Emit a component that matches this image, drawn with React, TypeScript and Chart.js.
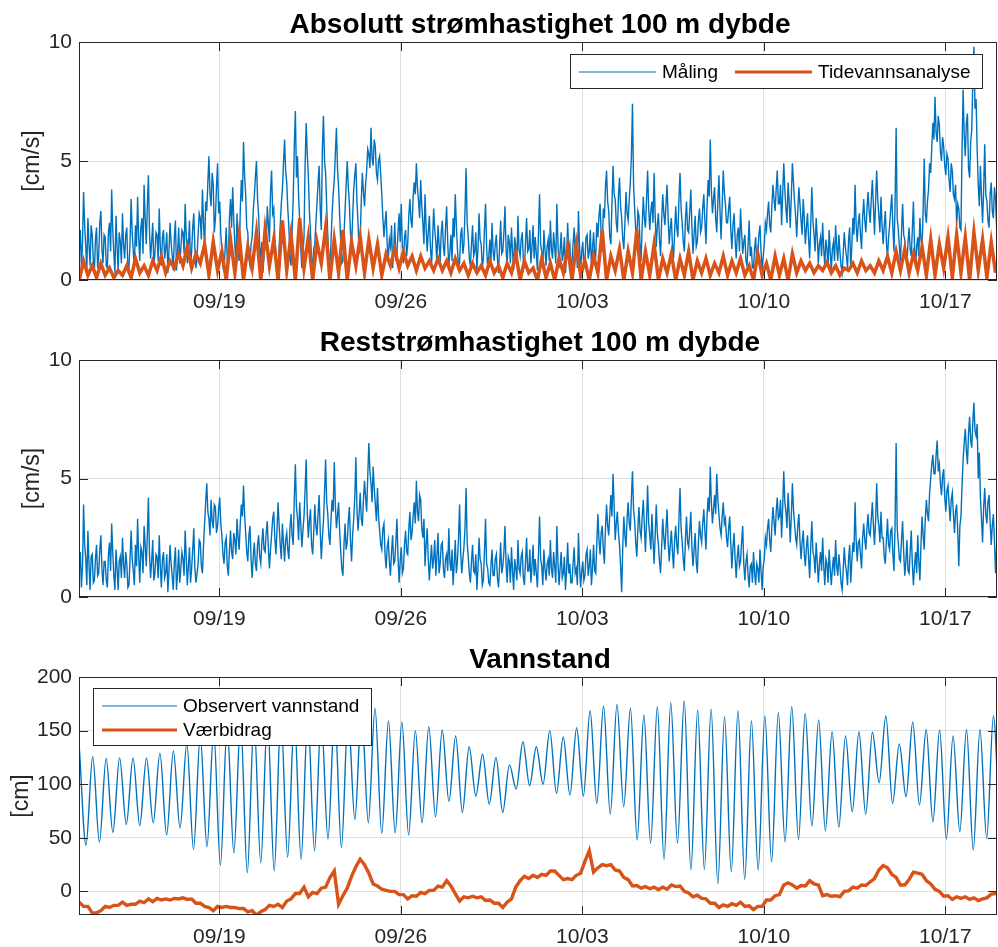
import { useEffect, useRef } from 'react';
import { Chart, registerables } from 'chart.js';

Chart.register(...registerables);

const FONT = '"Liberation Sans", Arial, Helvetica, sans-serif';
const BLUE = '#0072BD';
const ORANGE = '#D95319';
const AXIS = '#262626';
const GRID = 'rgba(38,38,38,0.15)';
const TICK_LEN = 9;

// Time axis in days relative to 19 Sep 00:00
const X_MIN = -5.41;
const X_MAX = 29.99;
const dayTicks = [0, 7, 14, 21, 28];
const dayTickLabels = ['09/19', '09/26', '10/03', '10/10', '10/17'];

const speedTicks = [0, 5, 10];
const levelTicks = [0, 50, 100, 150, 200];

// Current speed at 100 m (cm/s), hourly samples starting at day -5.4
const speedStart = -5.4;
const speedStep = 1 / 24;

const maaling = [
  1.2, 2.1, 0.5, 1.6, 3.7, 2.3, 1.4, 0.4, 2.6, 1.5, 0.6, 2.3, 1.9, 0.8, 0.4, 1.7, 2.2, 0.5, 1.0, 2.4, 2.9, 1.3, 0.7, 1.9,
  1.8, 0.6, 0.5, 2.0, 2.4, 1.2, 3.8, 2.1, 1.1, 0.3, 2.7, 1.4, 0.4, 2.0, 1.6, 0.7, 2.8, 1.5, 0.9, 1.9, 2.2, 0.4, 0.5, 1.6,
  3.4, 2.0, 1.2, 0.5, 2.3, 1.4, 3.5, 1.8, 0.8, 2.2, 2.6, 1.1, 4.0, 2.6, 1.5, 3.1, 4.4, 2.0, 0.9, 1.6, 2.4, 0.6, 1.1, 2.0,
  1.9, 0.8, 3.0, 1.4, 0.6, 1.8, 2.1, 0.9, 1.3, 2.0, 0.3, 1.2, 2.4, 1.6, 1.0, 0.4, 1.8, 2.5, 0.4, 1.1, 2.2, 0.7, 1.3, 2.1,
  2.0, 1.1, 3.2, 1.9, 0.7, 1.4, 2.5, 0.6, 1.2, 2.2, 2.8, 1.3, 0.5, 1.0, 1.9, 2.8, 2.6, 1.7, 3.8, 2.4, 1.3, 3.3, 2.9, 4.1,
  5.2, 3.6, 3.1, 4.5, 4.0, 2.0, 2.6, 3.9, 4.9, 2.8, 3.3, 1.9, 1.2, 0.5, 0.4, 1.3, 2.2, 0.8, 1.0, 2.6, 3.4, 2.2, 3.9, 2.5,
  1.5, 0.6, 2.8, 1.3, 0.8, 2.9, 4.2, 3.3, 5.8, 4.4, 3.6, 2.2, 2.0, 0.9, 0.6, 1.5, 1.8, 2.9, 3.5, 4.3, 5.0, 3.4, 2.7, 1.4,
  0.9, 1.6, 0.3, 1.0, 2.0, 1.2, 3.1, 2.4, 1.6, 3.7, 4.6, 2.8, 3.0, 1.7, 1.1, 0.5, 0.4, 1.4, 2.3, 3.2, 3.8, 4.9, 5.9, 4.6,
  4.1, 3.0, 2.2, 1.0, 0.6, 2.1, 3.4, 5.6, 7.1, 4.3, 5.2, 3.5, 2.5, 1.3, 0.5, 1.1, 1.8, 4.8, 6.6, 5.3, 4.4, 2.9, 2.0, 0.8,
  0.7, 1.3, 1.5, 2.4, 3.2, 4.1, 4.8, 3.0, 2.1, 5.5, 6.9, 5.0, 4.5, 3.1, 1.9, 0.9, 0.4, 1.6, 2.8, 3.6, 4.2, 5.3, 6.4, 4.7,
  3.9, 2.7, 1.6, 0.7, 0.8, 1.9, 2.9, 4.0, 5.0, 3.9, 3.2, 2.0, 1.4, 2.6, 3.8, 4.4, 4.9, 3.3, 2.4, 1.1, 1.7, 3.3, 4.5, 3.7,
  3.1, 4.0, 4.6, 5.5, 5.3, 4.7, 6.4, 5.1, 4.8, 5.9, 5.6, 4.5, 4.2, 5.0, 5.2, 4.4, 3.6, 2.6, 1.8, 2.4, 2.9, 1.5, 0.9, 1.7,
  1.4, 2.3, 0.5, 1.2, 2.4, 0.8, 1.1, 2.0, 2.8, 1.6, 3.2, 1.4, 0.7, 1.8, 2.1, 1.0, 1.5, 2.7, 3.4, 2.5, 2.2, 3.5, 4.1, 3.6,
  4.9, 3.9, 3.3, 2.6, 4.2, 3.1, 2.4, 1.5, 3.6, 2.2, 1.2, 2.0, 2.7, 1.4, 0.6, 1.7, 3.0, 2.1, 1.6, 0.7, 2.3, 1.5, 0.8, 2.0,
  2.5, 1.4, 1.0, 2.2, 3.1, 1.6, 0.5, 1.2, 1.9, 0.8, 2.6, 1.8, 3.6, 2.3, 1.3, 0.6, 0.7, 1.9, 2.2, 1.1, 1.5, 2.9, 4.7, 2.4,
  1.8, 0.9, 0.6, 1.5, 2.3, 1.0, 1.2, 2.0, 0.4, 1.3, 2.8, 1.7, 1.5, 0.5, 0.9, 2.1, 3.2, 1.4, 0.5, 1.0, 1.7, 0.7, 2.4, 1.2,
  0.8, 1.5, 1.9, 0.9, 0.3, 1.4, 2.5, 1.1, 1.2, 2.0, 3.1, 1.3, 0.6, 1.9, 1.6, 0.7, 2.2, 1.2, 0.4, 1.8, 1.4, 0.6, 2.7, 1.3,
  1.0, 1.7, 2.0, 0.8, 0.5, 1.6, 2.6, 1.2, 1.3, 2.1, 0.7, 1.4, 2.3, 0.9, 1.8, 1.1, 0.4, 2.0, 3.6, 1.5, 1.2, 0.5, 2.1, 1.3,
  0.6, 1.4, 1.7, 0.8, 2.5, 1.3, 0.9, 2.0, 1.4, 0.7, 3.2, 1.6, 0.5, 1.2, 2.0, 0.8, 1.1, 1.8, 0.3, 1.0, 2.4, 1.2, 1.5, 0.6,
  0.7, 1.5, 2.2, 1.0, 1.3, 0.5, 2.9, 1.4, 0.4, 1.2, 1.6, 0.7, 0.8, 1.8, 1.9, 0.9, 1.2, 2.1, 0.5, 1.3, 2.0, 1.1, 1.0, 2.4,
  1.8, 2.7, 3.2, 1.9, 1.2, 3.0, 2.6, 3.9, 4.6, 3.3, 2.9, 1.8, 1.5, 3.2, 4.8, 3.6, 3.4, 2.4, 2.0, 3.5, 4.3, 3.1, 2.6, 1.7,
  1.3, 2.4, 3.7, 2.8, 2.5, 3.4, 4.1, 5.2, 7.4, 4.0, 3.0, 2.1, 1.6, 2.9, 2.7, 1.5, 0.8, 2.3, 3.5, 2.6, 2.2, 3.4, 4.6, 3.0,
  2.1, 2.9, 3.3, 2.4, 4.5, 2.7, 1.4, 2.3, 2.8, 1.7, 1.0, 2.5, 3.6, 2.8, 2.3, 3.2, 4.0, 2.6, 1.5, 2.2, 2.6, 1.4, 0.9, 2.0,
  3.1, 2.2, 1.8, 3.4, 4.5, 3.0, 2.4, 1.6, 1.2, 2.5, 3.3, 2.1, 2.0, 2.9, 3.8, 2.2, 1.1, 1.9, 2.7, 1.4, 1.6, 2.5, 3.0, 2.0,
  2.2, 3.0, 3.6, 2.5, 1.5, 3.1, 4.2, 3.5, 5.9, 3.8, 2.8, 3.4, 3.9, 2.6, 2.0, 3.3, 4.4, 2.9, 1.7, 3.1, 4.6, 3.7, 3.2, 2.4,
  2.4, 3.0, 3.5, 2.1, 1.3, 2.3, 2.8, 1.7, 0.9, 1.9, 2.2, 1.2, 3.0, 2.0, 1.1, 1.6, 1.9, 0.8, 0.6, 1.5, 2.5, 1.0, 1.4, 0.5,
  0.5, 1.3, 1.8, 0.7, 1.0, 1.9, 2.3, 1.2, 0.4, 1.0, 1.5, 2.4, 2.1, 2.8, 3.3, 2.3, 2.0, 3.1, 4.0, 3.4, 2.9, 3.8, 4.6, 3.2,
  3.2, 4.0, 2.3, 3.6, 4.9, 3.8, 3.0, 2.4, 4.1, 3.3, 2.2, 3.5, 4.9, 4.1, 3.3, 2.7, 1.8, 2.9, 3.9, 3.2, 2.5, 1.9, 3.4, 2.6,
  1.5, 2.2, 2.8, 1.7, 0.9, 2.4, 3.9, 2.5, 1.9, 1.2, 2.6, 1.8, 0.7, 1.5, 1.8, 1.0, 2.4, 1.3, 0.6, 1.7, 1.3, 0.5, 2.1, 1.2,
  0.4, 1.3, 1.6, 0.8, 2.3, 1.4, 0.8, 1.9, 1.2, 0.6, 0.3, 1.1, 2.0, 1.4, 1.0, 0.5, 1.7, 2.2, 0.5, 1.4, 2.6, 1.9, 4.0, 2.3,
  1.6, 2.4, 2.8, 1.9, 1.3, 2.6, 3.4, 2.5, 2.0, 3.0, 3.7, 2.9, 2.4, 3.4, 4.2, 3.1, 1.9, 3.3, 4.6, 3.4, 2.7, 2.0, 3.5, 2.3,
  1.5, 2.3, 2.9, 1.6, 0.9, 1.8, 2.3, 3.0, 3.6, 2.2, 1.2, 3.1, 6.4, 2.6, 2.1, 1.4, 0.8, 2.0, 3.2, 1.9, 1.7, 1.1, 0.6, 1.6,
  2.2, 1.3, 1.0, 2.1, 3.3, 1.5, 0.5, 1.4, 1.8, 1.0, 2.6, 1.7, 1.3, 2.9, 5.1, 2.8, 2.4, 3.3, 3.8, 4.9, 4.5, 5.6, 6.6, 5.9,
  7.7, 6.2, 5.8, 6.9, 6.5, 5.4, 5.0, 6.0, 5.6, 4.8, 4.4, 5.3, 5.1, 4.2, 3.7, 4.9, 4.6, 3.6, 3.4, 4.0, 2.3, 3.2, 3.0, 2.2,
  2.1, 5.4, 8.0, 6.1, 5.2, 6.6, 7.0, 4.7, 4.3, 5.8, 6.3, 8.4, 9.8, 7.2, 7.6, 5.5, 4.0, 3.1, 4.8, 3.5, 2.4, 3.8, 5.7, 3.6,
  3.3, 2.5, 2.2, 3.6, 4.1, 2.9, 2.6, 3.9, 3.4, 2.2, 2.8, 3.5,
];

// Residual current at 100 m (cm/s), hourly samples starting at day -5.4
const reststrom = [
  1.1, 1.9, 0.4, 1.3, 3.9, 2.2, 1.6, 0.5, 2.8, 1.4, 0.3, 1.7, 1.8, 0.6, 0.7, 1.6, 2.2, 0.9, 1.0, 2.0, 2.6, 1.2, 0.5, 1.5,
  1.5, 0.7, 0.4, 1.8, 2.3, 1.1, 3.1, 1.9, 0.9, 0.3, 2.0, 1.2, 0.3, 1.5, 1.7, 0.8, 2.5, 1.4, 0.8, 1.9, 1.4, 0.4, 0.5, 1.6,
  2.8, 1.6, 1.1, 0.5, 2.2, 1.3, 3.3, 1.7, 0.6, 2.1, 1.9, 1.0, 3.0, 2.2, 1.3, 2.6, 4.2, 1.8, 0.8, 1.5, 2.4, 0.7, 1.0, 1.8,
  1.7, 0.8, 2.6, 1.3, 0.4, 1.6, 1.9, 0.8, 1.0, 1.8, 0.2, 1.1, 2.2, 1.4, 0.9, 0.3, 1.5, 2.1, 0.3, 1.0, 2.0, 0.6, 1.2, 1.9,
  1.6, 0.9, 2.8, 1.7, 0.5, 1.3, 2.1, 0.6, 1.2, 2.0, 2.9, 1.2, 0.6, 1.0, 1.4, 2.4, 2.3, 1.3, 1.0, 2.2, 3.1, 4.0, 4.8, 3.6,
  3.3, 2.6, 4.1, 3.2, 2.9, 3.9, 3.8, 2.7, 3.0, 3.7, 4.2, 3.1, 2.6, 1.8, 1.4, 2.3, 2.5, 1.3, 0.9, 2.0, 2.8, 1.9, 1.6, 2.7,
  2.4, 1.8, 3.3, 2.5, 2.0, 3.1, 3.9, 3.4, 4.7, 3.5, 2.7, 1.9, 1.5, 2.6, 3.0, 1.6, 0.8, 1.7, 2.3, 1.4, 1.1, 2.2, 2.6, 1.7,
  1.4, 2.3, 2.9, 2.0, 1.9, 2.7, 3.2, 2.1, 1.2, 2.0, 2.6, 3.3, 3.6, 2.5, 1.8, 2.8, 4.0, 3.0, 2.2, 1.6, 3.1, 2.3, 1.5, 2.4,
  2.7, 2.0, 1.6, 2.9, 3.5, 2.6, 2.2, 4.1, 5.6, 3.8, 3.3, 2.4, 4.0, 3.1, 2.1, 2.8, 3.4, 4.5, 5.8, 3.6, 2.5, 3.2, 3.7, 2.2,
  1.8, 2.7, 3.9, 3.0, 2.6, 3.5, 4.3, 2.8, 1.6, 2.5, 3.2, 4.4, 5.8, 4.0, 3.5, 2.6, 2.2, 3.3, 4.1, 3.6, 5.7, 3.9, 2.9, 3.4,
  4.0, 2.8, 1.9, 1.2, 0.9, 2.2, 3.1, 2.0, 2.3, 3.2, 3.8, 2.4, 1.5, 2.6, 3.3, 4.2, 5.9, 3.7, 2.8, 3.5, 4.4, 3.3, 3.0, 4.1,
  4.9, 4.2, 3.6, 5.1, 6.5, 5.3, 4.8, 4.0, 5.5, 4.6, 3.9, 3.2, 4.6, 3.4, 2.8, 2.2, 2.0, 2.9, 3.1, 1.8, 1.2, 2.1, 2.4, 1.5,
  0.9, 1.9, 2.6, 1.4, 1.5, 2.3, 3.3, 1.7, 0.6, 1.5, 2.1, 1.0, 1.2, 2.2, 2.8, 1.9, 1.8, 2.9, 3.6, 2.4, 2.7, 3.4, 4.0, 3.1,
  4.9, 3.6, 3.2, 4.3, 4.1, 2.9, 2.5, 3.3, 1.3, 2.2, 2.9, 1.6, 0.7, 1.5, 2.2, 1.2, 1.6, 2.4, 0.9, 1.7, 2.7, 1.0, 1.4, 2.2,
  2.3, 1.2, 0.8, 1.6, 1.8, 1.1, 2.9, 1.5, 1.1, 2.0, 0.5, 1.4, 2.4, 1.0, 1.5, 2.5, 3.9, 1.9, 1.0, 1.6, 2.1, 2.9, 4.6, 2.3,
  1.7, 1.0, 0.6, 1.5, 2.2, 1.1, 1.0, 1.8, 0.3, 1.2, 2.5, 1.6, 1.4, 0.5, 0.7, 1.9, 3.3, 1.4, 1.2, 0.6, 0.5, 1.3, 2.0, 0.9,
  0.9, 1.6, 1.8, 0.8, 0.4, 1.3, 2.3, 1.0, 1.3, 1.9, 3.0, 1.4, 0.6, 1.7, 1.5, 0.6, 2.1, 1.1, 0.3, 1.6, 1.2, 0.7, 2.4, 1.2,
  1.0, 1.7, 1.9, 0.8, 0.5, 1.5, 2.5, 1.1, 1.1, 2.0, 0.6, 1.3, 2.2, 0.9, 1.6, 1.0, 0.4, 1.8, 3.4, 1.6, 1.3, 0.5, 2.0, 1.2,
  0.7, 1.4, 1.6, 0.9, 2.4, 1.2, 0.8, 1.9, 1.3, 0.6, 3.0, 1.5, 0.5, 1.2, 1.9, 0.8, 1.0, 1.7, 0.3, 1.1, 2.3, 1.0, 1.4, 0.6,
  0.6, 1.4, 2.1, 1.0, 1.2, 0.5, 2.7, 1.3, 0.4, 1.1, 1.5, 0.7, 0.9, 1.8, 2.0, 0.9, 1.3, 2.0, 0.5, 1.2, 2.2, 1.1, 1.0, 2.3,
  3.5, 2.4, 1.8, 2.7, 3.0, 2.0, 1.4, 2.9, 3.9, 3.0, 2.6, 3.5, 4.3, 3.4, 5.2, 3.9, 2.4, 3.1, 3.6, 2.7, 2.2, 1.3, 0.2, 2.1,
  3.4, 2.6, 2.1, 3.3, 4.0, 3.1, 2.8, 4.2, 5.3, 3.7, 3.2, 2.3, 1.7, 2.9, 3.8, 2.8, 2.5, 3.4, 4.1, 3.0, 1.9, 3.2, 4.7, 3.1,
  2.6, 2.0, 3.5, 2.4, 1.4, 2.6, 3.9, 2.7, 2.2, 1.5, 1.0, 2.1, 3.3, 2.5, 2.0, 2.9, 3.7, 2.3, 1.5, 2.2, 2.8, 1.9, 1.2, 2.4,
  3.0, 2.2, 1.8, 3.3, 4.6, 2.9, 2.3, 1.6, 1.1, 2.4, 3.4, 2.3, 2.1, 2.8, 3.6, 2.1, 1.3, 2.0, 2.7, 1.5, 1.0, 2.3, 3.2, 2.6,
  2.3, 3.1, 3.7, 2.8, 2.0, 3.4, 4.2, 3.6, 5.5, 4.0, 3.1, 3.7, 4.3, 3.5, 5.2, 4.1, 3.5, 2.9, 2.6, 3.4, 4.0, 3.1, 3.3, 2.5,
  2.1, 2.9, 3.4, 2.2, 1.2, 2.1, 2.7, 1.6, 0.8, 1.7, 2.2, 1.3, 1.5, 2.3, 3.0, 1.4, 0.7, 1.5, 1.8, 0.9, 0.4, 1.3, 1.4, 0.6,
  1.9, 1.0, 0.5, 1.4, 1.2, 0.6, 2.0, 1.1, 0.3, 1.3, 1.6, 2.5, 2.2, 2.9, 3.3, 2.4, 1.9, 3.0, 3.8, 3.2, 2.6, 3.6, 4.2, 3.3,
  3.4, 4.1, 2.5, 3.8, 5.3, 4.0, 3.6, 2.9, 4.4, 3.5, 2.3, 3.4, 4.8, 3.7, 3.1, 2.5, 2.2, 3.0, 3.5, 2.4, 1.6, 2.3, 2.8, 1.8,
  1.3, 2.1, 2.6, 1.6, 0.8, 2.2, 3.2, 1.9, 1.7, 1.0, 2.3, 1.5, 0.6, 1.4, 1.9, 1.1, 2.5, 1.3, 0.5, 1.6, 1.4, 0.6, 2.0, 1.2,
  0.5, 1.2, 1.7, 0.9, 2.4, 1.3, 0.9, 1.8, 1.3, 0.6, 0.3, 1.1, 2.1, 1.4, 1.1, 0.5, 1.6, 2.2, 0.6, 1.5, 2.3, 1.9, 4.0, 2.4,
  1.5, 2.3, 2.4, 1.8, 1.2, 2.5, 3.1, 2.4, 2.0, 2.9, 3.5, 2.7, 2.6, 3.3, 4.0, 3.0, 2.2, 3.2, 4.8, 3.4, 3.0, 2.3, 3.6, 2.5,
  2.5, 1.7, 1.4, 2.4, 3.3, 2.2, 2.0, 2.8, 2.9, 1.8, 1.1, 3.0, 6.5, 2.9, 2.3, 1.6, 1.5, 2.4, 3.2, 1.9, 0.9, 1.5, 2.4, 1.1,
  1.0, 1.9, 2.8, 1.4, 0.5, 1.3, 1.9, 1.0, 2.6, 1.5, 0.7, 2.2, 3.4, 2.6, 2.0, 3.3, 4.1, 3.5, 3.2, 4.4, 5.0, 5.6, 6.0, 5.2,
  5.2, 6.0, 6.6, 5.3, 5.6, 4.8, 4.3, 5.1, 5.4, 4.2, 3.6, 4.5, 4.7, 3.9, 3.2, 4.1, 4.4, 3.5, 2.7, 3.6, 3.9, 2.8, 1.3, 3.0,
  3.4, 4.7, 5.8, 6.5, 7.1, 6.2, 5.6, 6.9, 7.6, 6.6, 6.3, 7.4, 8.2, 7.0, 6.8, 7.3, 5.0, 6.1, 4.2, 3.3, 2.3, 3.8, 4.6, 3.5,
  3.1, 4.0, 4.3, 3.2, 2.2, 3.0, 3.5, 2.4, 1.0, 2.1, 2.6, 3.3,
];

// Tidal prediction of the current speed (cm/s), 4-hourly samples
const tideSpeedStep = 1 / 6;
const tidevann = [
  0.0, 0.8, 0.2, 0.6, 0.1, 0.7,
  0.2, 0.5, 0.1, 0.4, 0.2, 0.6,
  0.1, 0.9, 0.3, 0.6, 0.2, 0.8,
  0.4, 1.0, 0.3, 0.8, 0.5, 1.1,
  0.6, 1.4, 0.5, 1.1, 0.7, 1.5,
  0.2, 1.6, 0.4, 1.2, 0.0, 1.7,
  0.3, 1.9, 0.0, 1.4, 0.5, 2.0,
  0.0, 2.1, 0.6, 1.7, 0.0, 2.5,
  0.4, 1.9, 0.0, 2.6, 0.5, 1.8,
  0.0, 1.6, 0.7, 2.2, 0.0, 1.7,
  0.3, 2.1, 0.0, 1.6, 0.6, 1.8,
  0.3, 1.7, 0.5, 1.5, 0.2, 1.1,
  0.6, 1.3, 0.5, 1.2, 0.6, 1.0,
  0.4, 1.0, 0.5, 0.8, 0.4, 0.9,
  0.4, 0.8, 0.3, 0.9, 0.4, 0.7,
  0.2, 0.7, 0.3, 0.6, 0.2, 0.8,
  0.3, 0.6, 0.1, 0.7, 0.3, 1.1,
  0.0, 0.8, 0.3, 0.5, 0.0, 0.9,
  0.1, 0.7, 0.0, 0.9, 0.3, 1.4,
  0.0, 1.5, 0.2, 0.8, 0.0, 1.0,
  0.3, 2.1, 0.0, 1.0, 0.4, 1.3,
  0.0, 1.2, 0.3, 2.1, 0.0, 1.2,
  0.2, 1.5, 0.0, 0.9, 0.3, 1.1,
  0.0, 0.9, 0.2, 1.2, 0.0, 0.8,
  0.3, 0.9, 0.2, 0.7, 0.3, 1.0,
  0.2, 0.8, 0.3, 0.9, 0.2, 0.6,
  0.0, 1.1, 0.2, 0.7, 0.0, 1.0,
  0.2, 0.9, 0.0, 1.1, 0.3, 0.8,
  0.4, 0.7, 0.3, 0.6, 0.4, 0.75,
  0.3, 0.6, 0.2, 0.5, 0.4, 0.7,
  0.3, 0.8, 0.4, 0.6, 0.3, 0.8,
  0.4, 1.0, 0.3, 1.2, 0.4, 1.3,
  0.3, 1.1, 0.4, 1.4, 0.2, 1.7,
  0.2, 1.5, 0.5, 1.8, 0.1, 1.9,
  0.3, 1.8, 0.0, 2.0, 0.4, 1.7,
  0.1, 1.6, 0.3,
];

// Water level: alternating high and low waters (cm), half a tidal cycle apart
const levelStart = -5.4;
const halfTide = 0.2592;
const highWaters = [
  135, 126, 124, 124.6, 124.6, 124.6, 129, 131, 138, 145,
  150, 154, 158, 160, 162, 163, 162, 164, 163, 167,
  165, 170, 171, 159, 158, 150, 153.6, 150.5, 145, 135,
  128, 125, 118, 139.6, 135, 150, 144, 152.7, 168.5, 173,
  174.5, 170.8, 164.5, 172.3, 176, 177.6, 169, 170, 163, 168.5,
  159, 163.6, 166.7, 172.3, 166, 160, 149, 145, 149, 148.4,
  163.6, 137.5, 158, 151, 150.5, 145, 151, 151, 163.6,
];
const lowWaters = [
  43, 46, 55, 62.5, 61.5, 64, 52.5, 59, 39, 41.6,
  24.5, 36, 17.4, 26.7, 19.2, 32, 30, 38, 48.8, 41,
  67, 64, 54, 54.7, 52.5, 64, 69.6, 84, 73.7, 89,
  81.5, 73.7, 95.5, 98.6, 100, 91.5, 90, 89, 82, 72,
  79, 48, 45, 30, 45, 20, 20.5, 7.5, 18.3, 11.2,
  20, 27.6, 46.3, 48.5, 61, 56.6, 59.7, 74.3, 72, 101.4,
  82, 88.3, 80.5, 65, 48.8, 55.6, 38.5, 49.5, 40,
];

// Weather contribution to the water level (cm), 4-hourly samples
const weatherStart = -5.4;
const weatherStep = 1 / 6;
const vaerbidrag = [
  -10, -14, -14, -20, -20, -18, -14, -15, -13, -13,
  -10, -13, -12, -12, -9, -10.5, -7, -9.5, -6.5, -8,
  -7, -8, -6.5, -7, -6, -7.5, -7, -11, -11, -14,
  -15, -18, -14, -15, -14, -15, -15, -16, -16, -19,
  -18, -22, -19, -17, -13, -14, -12, -15, -9, -7,
  -2, -2, 4, -5, -1, -2, 3, 4, 13, 19,
  -12, -4, 3, 14, 23, 30, 25, 17, 7, 5,
  2, 1, 0, 0, -3, -3, -7, -4, -4.5, -1,
  -2, 1, 1, 5, 4, 10, 5, -2, -9, -5,
  -6, -4.5, -6, -5, -8.5, -8, -11, -11, -15, -10,
  -7, 4, 10, 14, 12, 15, 13, 16, 15, 19,
  19, 15, 11, 12, 11, 15, 17, 28, 38, 18,
  22, 25, 24, 25, 20, 19, 13, 11, 5, 5.5,
  3, 4.5, 2.5, 4, 1.5, 4, 2, 6, 4.5, 5,
  0, -1.5, -5, -3.5, -6.5, -7, -11, -11, -15, -12.5,
  -14, -11.5, -13, -10, -14, -13.5, -17, -14, -14, -8,
  -8, -4, -3, 6, 8, 6, 3, 5.5, 5, 10,
  7, 6, -4, -3, -4.5, -4, -5, 0, 0.5, 4,
  3, 6, 5.5, 9, 12, 20, 24, 22, 16, 13,
  6, 6, 11, 18, 17, 16, 10, 7, 2, 0,
  -4.5, -4, -7.5, -5, -6.5, -5, -7.5, -6, -8.5, -7,
  -6, -2.5, -2, 1,
];

type Pt = { x: number; y: number };

const series = (start: number, step: number, values: number[]): Pt[] =>
  values.map((y, i) => ({ x: start + i * step, y }));

const tidePoints: Pt[] = highWaters.flatMap((h, i) => [
  { x: levelStart + 2 * i * halfTide, y: h },
  { x: levelStart + (2 * i + 1) * halfTide, y: lowWaters[i] },
]);

type LegendRow = { label: string; color: string; width: number; y: number; x1: number; x2: number; textX: number };

type PanelSpec = {
  key: string;
  title: string;
  yLabel: string;
  yLabelX: number;
  yMin: number;
  yMax: number;
  yTicks: number[];
  canvasTop: number;
  canvasHeight: number;
  plotTop: number;
  plotBottom: number;
  legend?: { box: [number, number, number, number]; rows: LegendRow[] };
  datasets: any[];
};

const lineSet = (data: Pt[], color: string, width: number, order: number, extra: object = {}) => ({
  data,
  borderColor: color,
  backgroundColor: color,
  borderWidth: width,
  pointRadius: 0,
  tension: 0,
  fill: false,
  order,
  clip: 0,
  ...extra,
});

const panels: PanelSpec[] = [
  {
    key: 'abs',
    title: 'Absolutt strømhastighet 100 m dybde',
    yLabel: '[cm/s]',
    yLabelX: 32.5,
    yMin: 0,
    yMax: 10,
    yTicks: speedTicks,
    canvasTop: 0,
    canvasHeight: 320,
    plotTop: 42,
    plotBottom: 280,
    legend: {
      box: [570, 54, 413, 35],
      rows: [
        { label: 'Måling', color: BLUE, width: 1, y: 72, x1: 579, x2: 656, textX: 662 },
        { label: 'Tidevannsanalyse', color: ORANGE, width: 3, y: 72, x1: 735, x2: 812, textX: 818 },
      ],
    },
    datasets: [
      lineSet(series(speedStart, speedStep, maaling), BLUE, 1.4, 2),
      lineSet(series(speedStart, tideSpeedStep, tidevann), ORANGE, 3.5, 1),
    ],
  },
  {
    key: 'rest',
    title: 'Reststrømhastighet 100 m dybde',
    yLabel: '[cm/s]',
    yLabelX: 32.5,
    yMin: 0,
    yMax: 10,
    yTicks: speedTicks,
    canvasTop: 320,
    canvasHeight: 310,
    plotTop: 360,
    plotBottom: 597,
    datasets: [lineSet(series(speedStart, speedStep, reststrom), BLUE, 1.4, 1)],
  },
  {
    key: 'level',
    title: 'Vannstand',
    yLabel: '[cm]',
    yLabelX: 21.7,
    yMin: -22,
    yMax: 200,
    yTicks: levelTicks,
    canvasTop: 630,
    canvasHeight: 317,
    plotTop: 677,
    plotBottom: 915,
    legend: {
      box: [93, 688, 279, 58],
      rows: [
        { label: 'Observert vannstand', color: BLUE, width: 1.2, y: 706, x1: 102, x2: 177, textX: 183 },
        { label: 'Værbidrag', color: ORANGE, width: 3, y: 730, x1: 102, x2: 177, textX: 183 },
      ],
    },
    datasets: [
      lineSet(tidePoints, BLUE, 1.4, 2, { cubicInterpolationMode: 'monotone' }),
      lineSet(series(weatherStart, weatherStep, vaerbidrag), ORANGE, 3.4, 1),
    ],
  },
];

const dayLabel = (v: number) => {
  const k = dayTicks.indexOf(v);
  return k >= 0 ? dayTickLabels[k] : '';
};

function framePlugin(spec: PanelSpec) {
  return {
    id: 'frame',
    afterDraw(chart: any) {
      const { ctx, chartArea: a } = chart;
      const xs = chart.scales.x;
      const ys = chart.scales.y;
      const off = spec.canvasTop;
      ctx.save();

      // axes box with inward tick marks on all four sides
      ctx.strokeStyle = AXIS;
      ctx.lineWidth = 1;
      ctx.strokeRect(a.left + 0.5, a.top + 0.5, a.right - a.left - 1, a.bottom - a.top - 1);
      ctx.beginPath();
      for (const d of dayTicks) {
        const px = Math.round(xs.getPixelForValue(d)) + 0.5;
        ctx.moveTo(px, a.top);
        ctx.lineTo(px, a.top + TICK_LEN);
        ctx.moveTo(px, a.bottom);
        ctx.lineTo(px, a.bottom - TICK_LEN);
      }
      for (const v of spec.yTicks) {
        const py = Math.round(ys.getPixelForValue(v)) + 0.5;
        ctx.moveTo(a.left, py);
        ctx.lineTo(a.left + TICK_LEN, py);
        ctx.moveTo(a.right, py);
        ctx.lineTo(a.right - TICK_LEN, py);
      }
      ctx.stroke();

      // title
      ctx.fillStyle = '#000000';
      ctx.font = `bold 28px ${FONT}`;
      ctx.textAlign = 'center';
      ctx.textBaseline = 'alphabetic';
      ctx.fillText(spec.title, (a.left + a.right) / 2 + 2, a.top - 9.5);

      // y-axis label
      ctx.save();
      ctx.translate(spec.yLabelX, (a.top + a.bottom) / 2);
      ctx.rotate(-Math.PI / 2);
      ctx.font = `23px ${FONT}`;
      ctx.fillStyle = AXIS;
      ctx.textAlign = 'center';
      ctx.textBaseline = 'middle';
      ctx.fillText(spec.yLabel, 0, 0);
      ctx.restore();

      // legend
      if (spec.legend) {
        const [bx, by, bw, bh] = spec.legend.box;
        ctx.fillStyle = '#ffffff';
        ctx.fillRect(bx, by - off, bw, bh);
        ctx.strokeStyle = AXIS;
        ctx.lineWidth = 1;
        ctx.strokeRect(bx + 0.5, by - off + 0.5, bw - 1, bh - 1);
        ctx.font = `19px ${FONT}`;
        ctx.textAlign = 'left';
        ctx.textBaseline = 'middle';
        for (const row of spec.legend.rows) {
          const y = row.y - off;
          ctx.strokeStyle = row.color;
          ctx.lineWidth = row.width;
          ctx.beginPath();
          ctx.moveTo(row.x1, y);
          ctx.lineTo(row.x2, y);
          ctx.stroke();
          ctx.fillStyle = '#000000';
          ctx.fillText(row.label, row.textX, y + 1);
        }
      }
      ctx.restore();
    },
  };
}

function makeConfig(spec: PanelSpec): any {
  const tickFont = { family: FONT, size: 21 };
  return {
    type: 'line',
    data: { datasets: spec.datasets },
    options: {
      animation: false,
      responsive: false,
      devicePixelRatio: 1,
      events: [],
      parsing: false,
      normalized: true,
      layout: { padding: { top: spec.plotTop - spec.canvasTop, right: 1, left: 0, bottom: 0 } },
      plugins: { legend: { display: false }, title: { display: false }, tooltip: { enabled: false } },
      elements: { point: { radius: 0 } },
      scales: {
        x: {
          type: 'linear',
          min: X_MIN,
          max: X_MAX,
          afterBuildTicks: (scale: any) => {
            scale.ticks = dayTicks.map((value) => ({ value }));
          },
          afterFit: (scale: any) => {
            scale.height = spec.canvasTop + spec.canvasHeight - spec.plotBottom;
          },
          grid: { color: GRID, lineWidth: 1, drawTicks: false },
          border: { display: false },
          ticks: {
            font: tickFont,
            color: AXIS,
            padding: 10,
            maxRotation: 0,
            autoSkip: false,
            callback: (v: number) => dayLabel(v),
          },
        },
        y: {
          type: 'linear',
          min: spec.yMin,
          max: spec.yMax,
          afterBuildTicks: (scale: any) => {
            scale.ticks = spec.yTicks.map((value) => ({ value }));
          },
          afterFit: (scale: any) => {
            scale.width = 79;
          },
          grid: { color: GRID, lineWidth: 1, drawTicks: false },
          border: { display: false },
          ticks: { font: tickFont, color: AXIS, padding: 7, callback: (v: number) => String(v) },
        },
      },
    },
    plugins: [framePlugin(spec)],
  };
}

function Panel({ spec }: { spec: PanelSpec }) {
  const ref = useRef<HTMLCanvasElement>(null);
  useEffect(() => {
    const canvas = ref.current;
    if (!canvas) return;
    const chart = new Chart(canvas, makeConfig(spec));
    return () => chart.destroy();
  }, [spec]);
  return (
    <canvas
      ref={ref}
      width={998}
      height={spec.canvasHeight}
      style={{ position: 'absolute', left: 0, top: spec.canvasTop, width: 998, height: spec.canvasHeight }}
    />
  );
}

export default function App() {
  return (
    <div style={{ position: 'absolute', left: 0, top: 0, width: 998, height: 947, background: '#ffffff', overflow: 'hidden' }}>
      {panels.map((p) => (
        <Panel key={p.key} spec={p} />
      ))}
    </div>
  );
}
